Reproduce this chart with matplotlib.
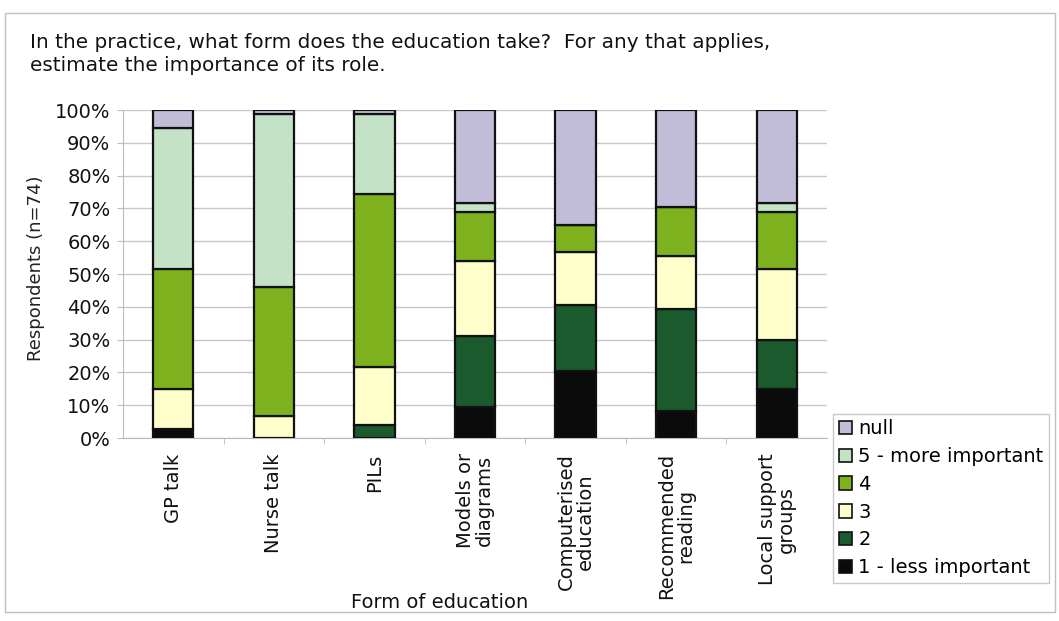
import matplotlib
matplotlib.use("Agg")
import matplotlib.pyplot as plt
from matplotlib.patches import Rectangle
from matplotlib.ticker import FuncFormatter, FixedLocator

categories = ["GP talk", "Nurse talk", "PILs", "Models or\ndiagrams",
              "Computerised\neducation", "Recommended\nreading", "Local support\ngroups"]
# percentages of respondents (n=74), bottom to top
level1 = [2.7, 0.0, 0.0, 9.5, 20.3, 8.1, 14.9]
level2 = [0.0, 0.0, 4.1, 21.6, 20.3, 31.1, 14.9]
level3 = [12.2, 6.8, 17.6, 23.0, 16.2, 16.2, 21.6]
level4 = [36.5, 39.2, 52.7, 14.9, 8.1, 14.9, 17.6]
level5 = [43.2, 52.7, 24.3, 2.7, 0.0, 0.0, 2.7]
null = [5.4, 1.4, 1.4, 28.4, 35.1, 29.7, 28.4]

series_names = ["1 - less important", "2", "3", "4", "5 - more important", "null"]
series_values = [level1, level2, level3, level4, level5, null]
colors = ["#0b0b0b", "#1a5a2c", "#ffffcc", "#7db21e", "#c4e3c6", "#c1bdd9"]

plt.rcParams['font.family'] = ['DejaVu Sans']
FS = 14
fig = plt.figure(figsize=(10.59, 6.21), dpi=100)
ax = fig.add_axes([123/1059, 1-438/621, 704/1059, 328/621])

x = list(range(len(categories)))
bottom = [0.0]*len(categories)
handles = []
for name, vals, col in zip(series_names, series_values, colors):
    b = ax.bar(x, vals, width=0.4, bottom=bottom, color=col, edgecolor="#111111",
               linewidth=1.6, label=name, zorder=3)
    handles.append(b)
    bottom = [bb + v for bb, v in zip(bottom, vals)]

ax.set_xlim(-0.5, len(categories)-0.5)
ax.set_ylim(0, 100)
ax.yaxis.set_major_locator(FixedLocator(range(0, 101, 10)))
ax.yaxis.set_major_formatter(FuncFormatter(lambda v, p: f"{int(v)}%"))
ax.grid(axis='y', color="#c8c8c8", linewidth=1.0, zorder=0)
for s in ["top", "right"]:
    ax.spines[s].set_visible(False)
for s in ["left", "bottom"]:
    ax.spines[s].set_color("#bbbbbb")
ax.tick_params(axis='y', colors="#bbbbbb", labelcolor="#111111", labelsize=FS, length=4, pad=5)
ax.set_xticks(x)
ax.set_xticklabels(categories, rotation=90, fontsize=FS, va='top', ha='center',
                   multialignment='center', linespacing=1.0)
ax.tick_params(axis='x', length=0, pad=11, labelcolor="#111111")
ax.set_xticks([i + 0.5 for i in x[:-1]], minor=True)
ax.tick_params(axis='x', which='minor', length=4, color="#bbbbbb")

fig.text(36/1059, 1-268/621, "Respondents (n=74)", fontsize=13, rotation=90,
         ha='center', va='center', color="#222222")
fig.text(440/1059, 1-603/621, "Form of education", fontsize=FS, ha='center', va='center',
         color="#111111")

fig.text(30/1059, 1-54/621,
         "In the practice, what form does the education take?  For any that applies,\nestimate the importance of its role.",
         fontsize=14.4, ha='left', va='center', linespacing=1.3, color="#111111")

leg = fig.legend(handles[::-1], series_names[::-1], loc='lower left',
                 bbox_to_anchor=(833/1059, 1-583/621), fontsize=FS,
                 frameon=True, handlelength=0.7, handleheight=0.7, handletextpad=0.3,
                 labelspacing=0.45, borderpad=0.3, borderaxespad=0, fancybox=False)
leg.get_frame().set_edgecolor("#bbbbbb")
leg.get_frame().set_linewidth(1.0)
for h in leg.legend_handles:
    h.set_linewidth(1.2)

fig.patches.append(Rectangle((5/1059, 1-612/621), 1050/1059, 599/621, transform=fig.transFigure,
                             fill=False, edgecolor="#c0c0c0", linewidth=1.0))

fig.savefig("out.png", dpi=100)
